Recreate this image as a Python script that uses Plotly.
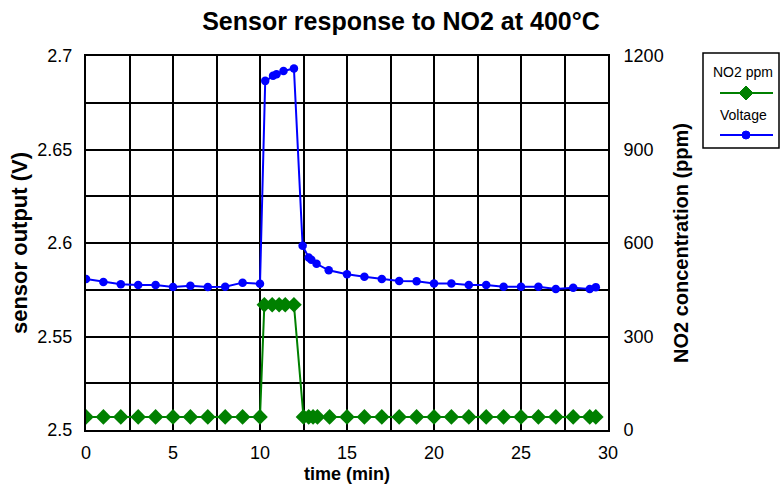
import plotly.graph_objects as go

# ---- data ----
time_v = [0, 1, 2, 3, 4, 5, 6, 7, 8, 9, 10, 10.3, 10.75, 10.95, 11.35, 11.95,
          12.45, 12.8, 12.95, 13.25, 13.95, 15, 16, 17, 18, 19, 20, 21, 22, 23,
          24, 25, 26, 27, 28, 28.95, 29.3]
voltage = [2.5808, 2.5792, 2.5779, 2.5775, 2.5775, 2.5765, 2.5772, 2.5765, 2.5766,
           2.5788, 2.5782, 2.6867, 2.6894, 2.6902, 2.6920, 2.6933,
           2.5985, 2.5922, 2.5910, 2.5889, 2.5854, 2.5833, 2.5819, 2.5808, 2.5797,
           2.5795, 2.5784, 2.5783, 2.5775, 2.5775, 2.5766, 2.5766, 2.5766, 2.5754,
           2.5761, 2.5754, 2.5764]

time_n = [0, 1, 2, 3, 4, 5, 6, 7, 8, 9, 10, 10.25, 10.7, 11.1, 11.45, 11.95,
          12.5, 12.8, 13.05, 13.3, 14, 15, 16, 17, 18, 19, 20, 21, 22, 23,
          24, 25, 26, 27, 28, 28.95, 29.3]
no2_ppm = [42, 42, 42, 42, 42, 42, 42, 42, 42, 42, 42, 402, 402, 402, 402, 402,
           42, 42, 42, 42, 42, 42, 42, 42, 42, 42, 42, 42, 42, 42,
           42, 42, 42, 42, 42, 42, 42]

x_ticks = [0, 5, 10, 15, 20, 25, 30]
y_ticks = [2.5, 2.55, 2.6, 2.65, 2.7]
y_ticklabels = ["2.5", "2.55", "2.6", "2.65", "2.7"]
y2_ticks = [0, 300, 600, 900, 1200]

GREEN = "#008000"
BLUE = "#0000FF"
FONT = "Liberation Sans, Arial, sans-serif"

W, H = 780, 486
L, R, T, B = 86, 608, 56, 430


def px(x, y):
    return (x - L) / (R - L), (B - y) / (B - T)


fig = go.Figure()
fig.add_trace(go.Scatter(
    x=time_n, y=no2_ppm, yaxis="y2", name="NO2 ppm", mode="lines+markers",
    line=dict(color=GREEN, width=2),
    marker=dict(symbol="diamond", size=12, color=GREEN),
    showlegend=False))
fig.add_trace(go.Scatter(
    x=time_v, y=voltage, name="Voltage", mode="lines+markers",
    line=dict(color=BLUE, width=2),
    marker=dict(symbol="circle", size=8.5, color=BLUE),
    showlegend=False))

grid = dict(showgrid=True, gridcolor="black", gridwidth=2)

fig.update_layout(
    width=W, height=H,
    margin=dict(l=L, r=W - R, t=T, b=H - B, autoexpand=False),
    paper_bgcolor="white", plot_bgcolor="white",
    font=dict(family=FONT, color="black", size=18),
    title=dict(text="<b>Sensor response to NO2 at 400°C</b>",
               x=401 / W, xanchor="center", xref="container",
               y=1 - 21 / H, yanchor="middle", yref="container",
               font=dict(size=25, family=FONT, color="black")),
    xaxis=dict(range=[0, 30], tickvals=x_ticks, ticktext=[str(v) for v in x_ticks],
               showline=True, mirror=True, linecolor="black", linewidth=2,
               zeroline=False, ticks="", ticklabelstandoff=5, automargin=False,
               tickfont=dict(size=18),
               minor=dict(dtick=2.5, showgrid=True, gridcolor="black", gridwidth=2),
               title=dict(text="<b>time (min)</b>", font=dict(size=18), standoff=6),
               **grid),
    yaxis=dict(range=[2.5, 2.7], tickvals=y_ticks, ticktext=y_ticklabels,
               showline=True, mirror=True, linecolor="black", linewidth=2,
               zeroline=False, ticks="", ticklabelstandoff=8, automargin=False,
               tickfont=dict(size=18),
               minor=dict(dtick=0.025, showgrid=True, gridcolor="black", gridwidth=2),
               title=dict(text="<b>sensor output (V)</b>", font=dict(size=22), standoff=4),
               **grid),
    yaxis2=dict(range=[0, 1200], tickvals=y2_ticks, overlaying="y", side="right",
                showgrid=False, zeroline=False, showline=True, linecolor="black",
                linewidth=2, ticks="", ticklabelstandoff=10, automargin=False,
                tickfont=dict(size=18),
                title=dict(text="<b>NO2 concentration (ppm)</b>", font=dict(size=20),
                           standoff=11)),
)

# ---- custom legend (text above line sample) ----
x0, y0 = px(703, 53)
x1, y1 = px(779, 148)
fig.add_shape(type="rect", xref="paper", yref="paper", x0=x0, y0=y1, x1=x1, y1=y0,
              line=dict(color="black", width=1.5), fillcolor="white", layer="above")


def legend_item(label, ty, ly, color, symbol):
    tx, tyy = px(743, ty)
    fig.add_annotation(xref="paper", yref="paper", x=tx, y=tyy, text=label,
                       showarrow=False, xanchor="center", yanchor="middle",
                       font=dict(size=14, family=FONT, color="black"))
    lx0, lyy = px(720, ly)
    lx1, _ = px(773, ly)
    fig.add_shape(type="line", xref="paper", yref="paper", x0=lx0, x1=lx1,
                  y0=lyy, y1=lyy, line=dict(color=color, width=2), layer="above")
    cx = 746
    if symbol == "diamond":
        pts = [(cx, ly - 7), (cx + 7, ly), (cx, ly + 7), (cx - 7, ly)]
        path = "M " + " L ".join(f"{px(a, b)[0]},{px(a, b)[1]}" for a, b in pts) + " Z"
        fig.add_shape(type="path", xref="paper", yref="paper", path=path,
                      fillcolor=color, line=dict(color=color, width=1), layer="above")
    else:
        ax0, ay0 = px(cx - 4, ly + 4)
        ax1, ay1 = px(cx + 4, ly - 4)
        fig.add_shape(type="circle", xref="paper", yref="paper", x0=ax0, y0=ay0,
                      x1=ax1, y1=ay1, fillcolor=color, line=dict(color=color, width=1),
                      layer="above")


legend_item("NO2 ppm", 72, 93, GREEN, "diamond")
legend_item("Voltage", 115, 135, BLUE, "circle")

fig.write_html("out.html",
               config={"displayModeBar": False},
               post_script="document.body.style.margin='0';"
                           "document.body.style.overflow='hidden';")
